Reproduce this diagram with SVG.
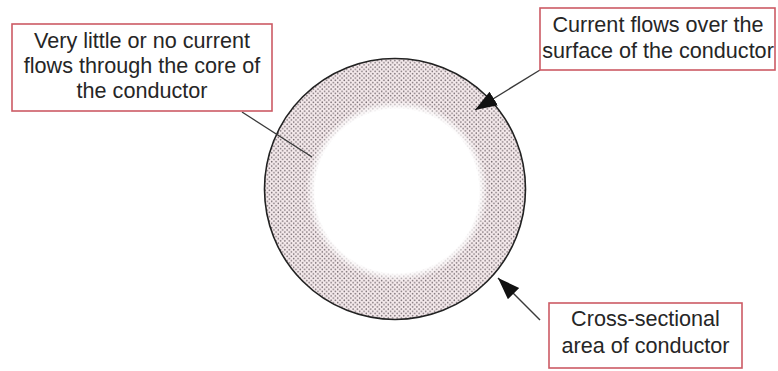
<svg xmlns="http://www.w3.org/2000/svg" width="778" height="371" viewBox="0 0 778 371">
  <style>
    .box { fill: #ffffff; stroke: #cc5a64; stroke-width: 1.6; }
    .lbl { font-family: "Liberation Sans", Arial, sans-serif; font-size: 21.6px; fill: #262626; text-anchor: middle; }
    .conn { stroke: #3a3a3a; stroke-width: 1.4; fill: none; }
  </style>
  <defs>
    <pattern id="dots" x="0" y="0" width="4.4" height="4.4" patternUnits="userSpaceOnUse">
      <rect width="4.4" height="4.4" fill="#f6ebed"/>
      <circle cx="1.1" cy="1.1" r="0.8" fill="#776d72"/>
      <circle cx="3.3" cy="3.3" r="0.8" fill="#776d72"/>
    </pattern>
    <radialGradient id="core" cx="0.5" cy="0.5" r="0.5">
      <stop offset="0" stop-color="#ffffff" stop-opacity="1"/>
      <stop offset="0.9" stop-color="#ffffff" stop-opacity="1"/>
      <stop offset="1" stop-color="#ffffff" stop-opacity="0"/>
    </radialGradient>
    <marker id="arr" markerUnits="userSpaceOnUse" markerWidth="24" markerHeight="18" refX="22" refY="8" orient="auto">
      <path d="M0,0 L22,8 L0,16 Z" fill="#111111"/>
    </marker>
  </defs>
  <rect width="778" height="371" fill="#ffffff"/>

  <g id="conductor">
    <circle cx="395" cy="189" r="130.5" fill="url(#dots)" stroke="#222222" stroke-width="1.6"/>
    <circle cx="397" cy="191" r="91" fill="url(#core)"/>
  </g>

  <g id="connectors">
    <line class="conn" x1="242" y1="112" x2="312" y2="157"/>
    <line class="conn" x1="540" y1="70" x2="475" y2="110" marker-end="url(#arr)"/>
    <line class="conn" x1="540" y1="320" x2="498" y2="278" marker-end="url(#arr)"/>
  </g>

  <g id="label-core">
    <rect class="box" x="12" y="24" width="260" height="87"/>
    <text class="lbl" x="142" y="48">Very little or no current</text>
    <text class="lbl" x="142" y="73">flows through the core of</text>
    <text class="lbl" x="142" y="98">the conductor</text>
  </g>

  <g id="label-surface">
    <rect class="box" x="540" y="8" width="235" height="62"/>
    <text class="lbl" x="658" y="32">Current flows over the</text>
    <text class="lbl" x="658" y="58">surface of the conductor</text>
  </g>

  <g id="label-area">
    <rect class="box" x="549" y="303" width="193" height="65"/>
    <text class="lbl" x="645.5" y="326">Cross-sectional</text>
    <text class="lbl" x="645.5" y="353">area of conductor</text>
  </g>
</svg>
